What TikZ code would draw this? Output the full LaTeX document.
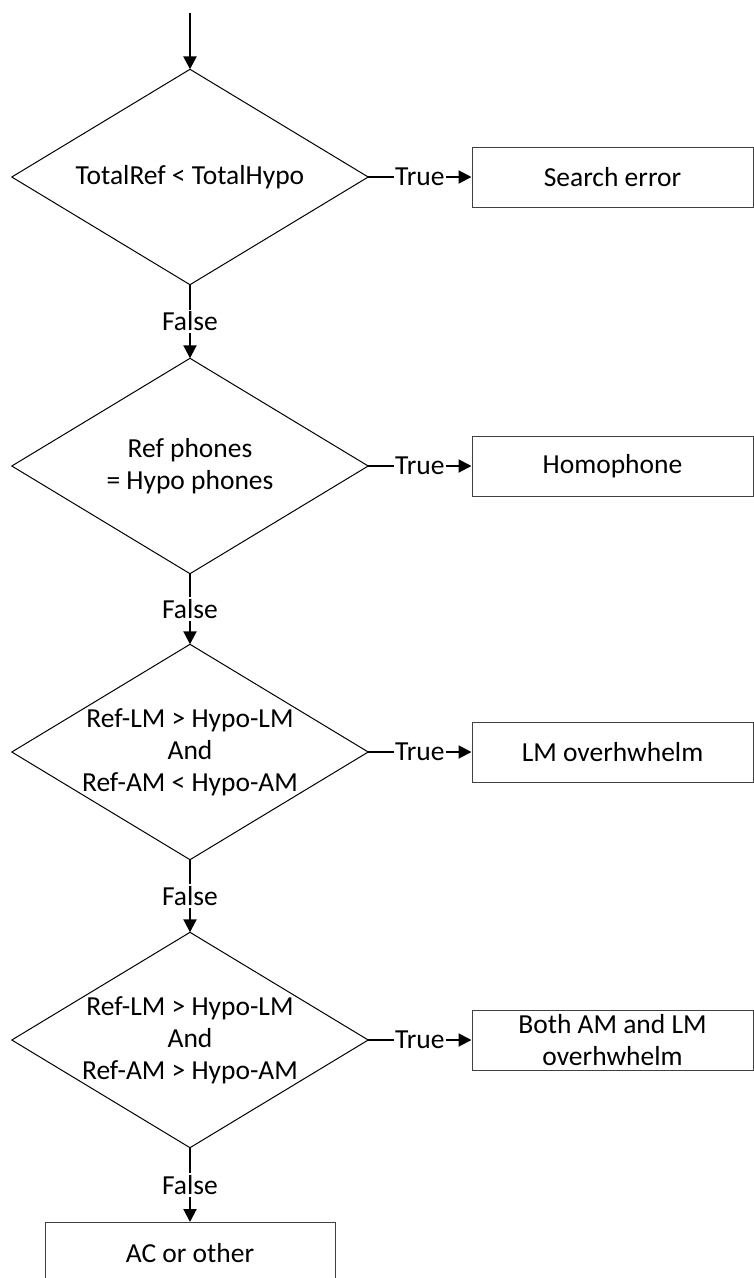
\documentclass[tikz,border=0pt]{standalone}
\usepackage{fontspec}
\setmainfont{Carlito}
\usetikzlibrary{arrows.meta}
\begin{document}
\begin{tikzpicture}[x=1pt,y=-1pt,
  txt/.style={font=\fontsize{27.5}{32}\selectfont, align=center, inner sep=0pt},
  decision/.style={txt, minimum width=356pt, minimum height=215pt},
  outcome/.style={txt, draw=black!75, line width=1pt, minimum width=281pt, minimum height=60pt},
  flow/.style={line width=2pt, -{Triangle[length=13pt,width=13pt]}},
  edgelabel/.style={txt, fill=white, inner xsep=1pt, inner ysep=2pt},
  rhomb/.style={draw, line width=1pt}]
\useasboundingbox (0,0) rectangle (754,1278);
\clip (0,0) rectangle (754,1278);

% decisions (text areas; the rhombi are drawn from their anchors)
\node[decision] (d1) at (190,177) {TotalRef < TotalHypo};
\node[decision] (d2) at (190,466) {Ref phones\\= Hypo phones};
\node[decision] (d3) at (190,752) {Ref-LM > Hypo-LM\\And\\Ref-AM < Hypo-AM};
\node[decision] (d4) at (190,1040) {Ref-LM > Hypo-LM\\And\\Ref-AM > Hypo-AM};
\foreach \d in {d1,d2,d3,d4}
  \draw[rhomb] (\d.north) -- (\d.east) -- (\d.south) -- (\d.west) -- cycle;

% outcomes
\node[outcome] (r1) at (612.5,177) {Search error};
\node[outcome] (r2) at (612.5,466) {Homophone};
\node[outcome] (r3) at (612.5,752) {LM overhwhelm};
\node[outcome] (r4) at (612.5,1040) {Both AM and LM\\overhwhelm};
\node[outcome, minimum width=290pt, minimum height=62pt, anchor=north] (r5) at (190,1222) {AC or other};

% entry
\coordinate (start) at (190,13);
\draw[flow, line width=2.5pt] (start) -- (d1.north);

% true branches
\draw[flow] (d1.east) -- node[edgelabel]{True} (r1.west);
\draw[flow] (d2.east) -- node[edgelabel]{True} (r2.west);
\draw[flow] (d3.east) -- node[edgelabel]{True} (r3.west);
\draw[flow] (d4.east) -- node[edgelabel]{True} (r4.west);

% false branches
\draw[flow] (d1.south) -- node[edgelabel]{False} (d2.north);
\draw[flow] (d2.south) -- node[edgelabel]{False} (d3.north);
\draw[flow] (d3.south) -- node[edgelabel]{False} (d4.north);
\draw[flow] (d4.south) -- node[edgelabel]{False} (r5.north);
\end{tikzpicture}
\end{document}
